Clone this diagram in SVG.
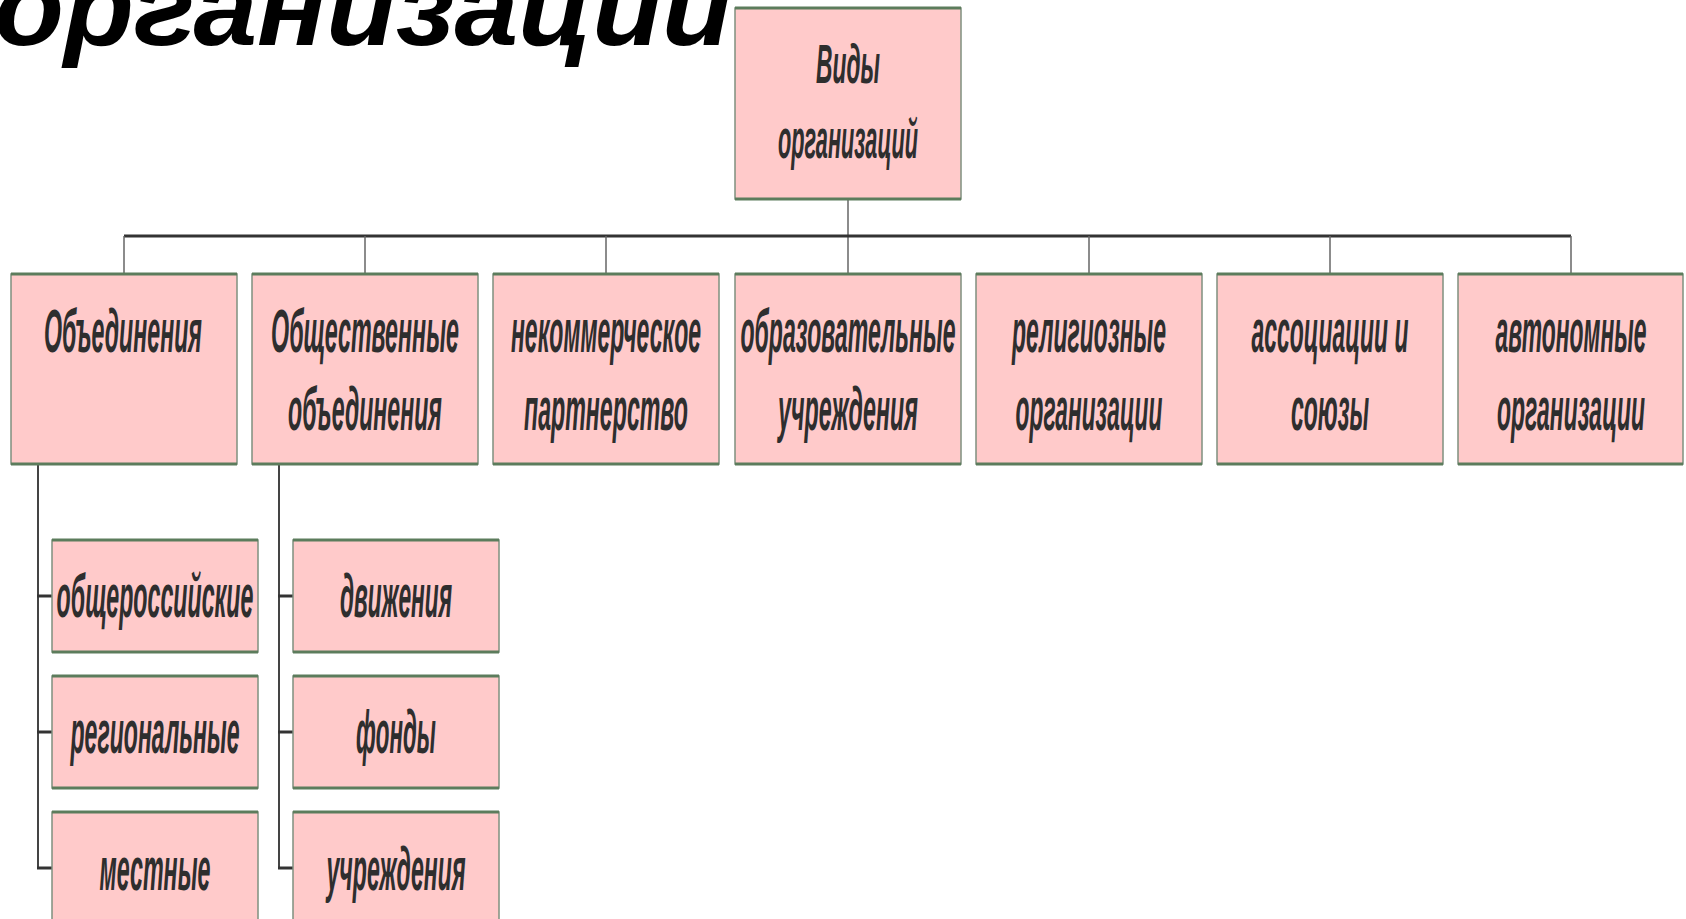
<svg xmlns="http://www.w3.org/2000/svg" width="1686" height="919" viewBox="0 0 1686 919">
<style>
.box{fill:#FFCACA;stroke:#7f907f;stroke-width:1.5}
.edge{stroke:#5c7c5c;stroke-width:3}
.t{font-family:"Liberation Sans",Arial,sans-serif;font-style:italic;font-weight:bold;fill:#2e2e2e;text-anchor:middle}
.l2{font-size:62px}
.top{font-size:56px}
.sub{font-size:62px}
.title{font-family:"Liberation Sans",Arial,sans-serif;font-style:italic;font-weight:bold;font-size:110px;fill:#000}
.stub{stroke:#666;stroke-width:1.5;fill:none}
.bus{stroke:#333;stroke-width:3;fill:none}
.vline{stroke:#444;stroke-width:2;fill:none}
.hstub{stroke:#333;stroke-width:3;fill:none}
</style>
<rect width="1686" height="919" fill="#fff"/>
<text class="title" x="-6" y="45" textLength="738" lengthAdjust="spacingAndGlyphs">организации</text>

<g id="connectors">
<line class="stub" x1="848" y1="199" x2="848" y2="274"/>
<line class="bus" x1="124" y1="236" x2="1571" y2="236"/>
<line class="stub" x1="124" y1="236" x2="124" y2="274"/>
<line class="stub" x1="365" y1="236" x2="365" y2="274"/>
<line class="stub" x1="606" y1="236" x2="606" y2="274"/>
<line class="stub" x1="1089" y1="236" x2="1089" y2="274"/>
<line class="stub" x1="1330" y1="236" x2="1330" y2="274"/>
<line class="stub" x1="1571" y1="236" x2="1571" y2="274"/>
<line class="vline" x1="38" y1="465" x2="38" y2="868"/>
<line class="hstub" x1="37" y1="596" x2="52" y2="596"/>
<line class="hstub" x1="37" y1="732" x2="52" y2="732"/>
<line class="hstub" x1="37" y1="868" x2="52" y2="868"/>
<line class="vline" x1="279" y1="465" x2="279" y2="868"/>
<line class="hstub" x1="278" y1="596" x2="293" y2="596"/>
<line class="hstub" x1="278" y1="732" x2="293" y2="732"/>
<line class="hstub" x1="278" y1="868" x2="293" y2="868"/>
</g>

<g id="root">
<rect class="box" x="735" y="8" width="226" height="191"/>
<line class="edge" x1="735" y1="8" x2="961" y2="8"/><line class="edge" x1="735" y1="199" x2="961" y2="199"/>
<text class="t top" transform="translate(848 83) scale(0.4 1)" textLength="160" lengthAdjust="spacingAndGlyphs">Виды</text>
<text class="t top" transform="translate(848 158) scale(0.4 1)" textLength="350" lengthAdjust="spacingAndGlyphs">организаций</text>
</g>

<g id="n1">
<rect class="box" x="11" y="274" width="226" height="190"/>
<line class="edge" x1="11" y1="274" x2="237" y2="274"/><line class="edge" x1="11" y1="464" x2="237" y2="464"/>
<text class="t l2" transform="translate(123 352) scale(0.37 1)" textLength="427" lengthAdjust="spacingAndGlyphs">Объединения</text>
</g>
<g id="n2">
<rect class="box" x="252" y="274" width="226" height="190"/>
<line class="edge" x1="252" y1="274" x2="478" y2="274"/><line class="edge" x1="252" y1="464" x2="478" y2="464"/>
<text class="t l2" transform="translate(365 352) scale(0.37 1)" textLength="508" lengthAdjust="spacingAndGlyphs">Общественные</text>
<text class="t l2" transform="translate(365 430) scale(0.37 1)" textLength="416" lengthAdjust="spacingAndGlyphs">объединения</text>
</g>
<g id="n3">
<rect class="box" x="493" y="274" width="226" height="190"/>
<line class="edge" x1="493" y1="274" x2="719" y2="274"/><line class="edge" x1="493" y1="464" x2="719" y2="464"/>
<text class="t l2" transform="translate(606 352) scale(0.37 1)" textLength="514" lengthAdjust="spacingAndGlyphs">некоммерческое</text>
<text class="t l2" transform="translate(606 430) scale(0.37 1)" textLength="443" lengthAdjust="spacingAndGlyphs">партнерство</text>
</g>
<g id="n4">
<rect class="box" x="735" y="274" width="226" height="190"/>
<line class="edge" x1="735" y1="274" x2="961" y2="274"/><line class="edge" x1="735" y1="464" x2="961" y2="464"/>
<text class="t l2" transform="translate(848 352) scale(0.37 1)" textLength="581" lengthAdjust="spacingAndGlyphs">образовательные</text>
<text class="t l2" transform="translate(848 430) scale(0.37 1)" textLength="378" lengthAdjust="spacingAndGlyphs">учреждения</text>
</g>
<g id="n5">
<rect class="box" x="976" y="274" width="226" height="190"/>
<line class="edge" x1="976" y1="274" x2="1202" y2="274"/><line class="edge" x1="976" y1="464" x2="1202" y2="464"/>
<text class="t l2" transform="translate(1089 352) scale(0.37 1)" textLength="416" lengthAdjust="spacingAndGlyphs">религиозные</text>
<text class="t l2" transform="translate(1089 430) scale(0.37 1)" textLength="397" lengthAdjust="spacingAndGlyphs">организации</text>
</g>
<g id="n6">
<rect class="box" x="1217" y="274" width="226" height="190"/>
<line class="edge" x1="1217" y1="274" x2="1443" y2="274"/><line class="edge" x1="1217" y1="464" x2="1443" y2="464"/>
<text class="t l2" transform="translate(1330 352) scale(0.37 1)" textLength="424" lengthAdjust="spacingAndGlyphs">ассоциации и</text>
<text class="t l2" transform="translate(1330 430) scale(0.37 1)" textLength="211" lengthAdjust="spacingAndGlyphs">союзы</text>
</g>
<g id="n7">
<rect class="box" x="1458" y="274" width="225" height="190"/>
<line class="edge" x1="1458" y1="274" x2="1683" y2="274"/><line class="edge" x1="1458" y1="464" x2="1683" y2="464"/>
<text class="t l2" transform="translate(1571 352) scale(0.37 1)" textLength="408" lengthAdjust="spacingAndGlyphs">автономные</text>
<text class="t l2" transform="translate(1571 430) scale(0.37 1)" textLength="400" lengthAdjust="spacingAndGlyphs">организации</text>
</g>

<g id="s1">
<rect class="box" x="52" y="540" width="206" height="112"/>
<line class="edge" x1="52" y1="540" x2="258" y2="540"/><line class="edge" x1="52" y1="652" x2="258" y2="652"/>
<text class="t sub" transform="translate(155 617) scale(0.37 1)" textLength="532" lengthAdjust="spacingAndGlyphs">общероссийские</text>
</g>
<g id="s2">
<rect class="box" x="52" y="676" width="206" height="112"/>
<line class="edge" x1="52" y1="676" x2="258" y2="676"/><line class="edge" x1="52" y1="788" x2="258" y2="788"/>
<text class="t sub" transform="translate(155 753) scale(0.37 1)" textLength="457" lengthAdjust="spacingAndGlyphs">региональные</text>
</g>
<g id="s3">
<rect class="box" x="52" y="812" width="206" height="112"/>
<line class="edge" x1="52" y1="812" x2="258" y2="812"/>
<text class="t sub" transform="translate(155 890) scale(0.37 1)" textLength="300" lengthAdjust="spacingAndGlyphs">местные</text>
</g>
<g id="s4">
<rect class="box" x="293" y="540" width="206" height="112"/>
<line class="edge" x1="293" y1="540" x2="499" y2="540"/><line class="edge" x1="293" y1="652" x2="499" y2="652"/>
<text class="t sub" transform="translate(396 617) scale(0.37 1)" textLength="303" lengthAdjust="spacingAndGlyphs">движения</text>
</g>
<g id="s5">
<rect class="box" x="293" y="676" width="206" height="112"/>
<line class="edge" x1="293" y1="676" x2="499" y2="676"/><line class="edge" x1="293" y1="788" x2="499" y2="788"/>
<text class="t sub" transform="translate(396 753) scale(0.37 1)" textLength="216" lengthAdjust="spacingAndGlyphs">фонды</text>
</g>
<g id="s6">
<rect class="box" x="293" y="812" width="206" height="112"/>
<line class="edge" x1="293" y1="812" x2="499" y2="812"/>
<text class="t sub" transform="translate(396 890) scale(0.37 1)" textLength="376" lengthAdjust="spacingAndGlyphs">учреждения</text>
</g>
</svg>
